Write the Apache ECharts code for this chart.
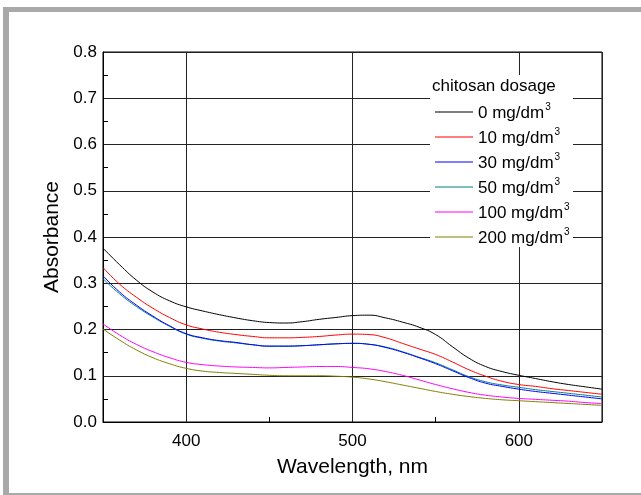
<!DOCTYPE html>
<html>
<head>
<meta charset="utf-8">
<script src="https://cdn.jsdelivr.net/npm/echarts@6/dist/echarts.min.js"></script>
<style>
  html, body { margin: 0; padding: 0; background: #fff; }
  #chart { width: 641px; height: 495px; }
</style>
</head>
<body>
<div id="chart"></div>
<script>
const wavelengths = [350,360,370,380,390,400,410,420,430,440,450,460,470,480,490,500,510,520,530,540,550,560,570,580,590,600,610,620,630,640,650];
const seriesNames = ['0 mg/dm³','10 mg/dm³','30 mg/dm³','50 mg/dm³','100 mg/dm³','200 mg/dm³'];
const seriesColors = ['#000000','#ff0000','#0000ff','#008080','#ff00ff','#808000'];
const dose0   = [0.376,0.340,0.307,0.281,0.262,0.249,0.240,0.232,0.225,0.219,0.215,0.214,0.217,0.222,0.226,0.230,0.231,0.225,0.216,0.205,0.189,0.163,0.138,0.120,0.109,0.101,0.094,0.087,0.081,0.076,0.071];
const dose10  = [0.334,0.298,0.270,0.246,0.226,0.210,0.201,0.194,0.189,0.185,0.182,0.182,0.183,0.185,0.188,0.190,0.189,0.182,0.170,0.158,0.146,0.130,0.113,0.099,0.088,0.081,0.077,0.072,0.068,0.064,0.060];
const dose30  = [0.316,0.281,0.253,0.229,0.208,0.191,0.182,0.176,0.172,0.167,0.164,0.164,0.165,0.167,0.169,0.170,0.168,0.161,0.151,0.139,0.126,0.111,0.096,0.084,0.077,0.071,0.066,0.062,0.058,0.054,0.050];
const dose50  = [0.310,0.277,0.250,0.227,0.207,0.190,0.181,0.175,0.171,0.167,0.164,0.164,0.165,0.167,0.169,0.170,0.168,0.162,0.152,0.140,0.128,0.113,0.098,0.087,0.080,0.075,0.070,0.066,0.062,0.058,0.054];
const dose100 = [0.212,0.188,0.168,0.152,0.139,0.129,0.124,0.121,0.119,0.118,0.117,0.118,0.119,0.120,0.120,0.118,0.115,0.109,0.101,0.091,0.081,0.072,0.064,0.058,0.054,0.051,0.049,0.047,0.045,0.042,0.040];
const dose200 = [0.201,0.177,0.156,0.139,0.126,0.116,0.110,0.107,0.105,0.103,0.101,0.100,0.100,0.100,0.099,0.097,0.093,0.087,0.080,0.073,0.066,0.060,0.055,0.051,0.048,0.046,0.044,0.042,0.040,0.038,0.036];
const seriesValues = [dose0, dose10, dose30, dose50, dose100, dose200];
const xTickLabels = [400, 500, 600];
const legendTitle = 'chitosan dosage';

const FONT = '"Liberation Sans", Arial, sans-serif';
const chart = echarts.init(document.getElementById('chart'), null, { renderer: 'canvas' });

const series = seriesNames.map((name, i) => ({
  name: name,
  type: 'line',
  data: wavelengths.map((w, j) => [w, seriesValues[i][j]]),
  showSymbol: false,
  symbol: 'none',
  smooth: 0.5,
  lineStyle: { color: seriesColors[i], width: 1 },
  itemStyle: { color: seriesColors[i] },
  z: 2 + (5 - i) * 0.01
}));

const option = {
  backgroundColor: '#ffffff',
  animation: false,
  textStyle: { fontFamily: FONT },
  grid: { left: 103, right: 39, top: 52, bottom: 73, show: true, borderColor: '#000', borderWidth: 1, backgroundColor: 'transparent' },
  title: {
    text: legendTitle,
    left: 432, top: 78,
    padding: 0,
    textStyle: { fontFamily: FONT, fontSize: 17, fontWeight: 'normal', color: '#000' }
  },
  legend: {
    orient: 'vertical',
    left: 435, top: 102,
    padding: 0,
    itemWidth: 38,
    itemHeight: 1,
    itemGap: 5,
    icon: 'rect',
    selectedMode: false,
    data: seriesNames.map((n, i) => ({ name: n, itemStyle: { color: seriesColors[i] } })),
    formatter: function (name) {
      return '{a|' + name.replace('³', '') + '}{s|3}';
    },
    textStyle: {
      fontFamily: FONT, color: '#000', padding: [0, 0, 0, 0],
      rich: {
        a: { fontFamily: FONT, fontSize: 17, color: '#000', lineHeight: 20, verticalAlign: 'bottom' },
        s: { fontFamily: FONT, fontSize: 10, color: '#000', lineHeight: 20, verticalAlign: 'top', padding: [0, 0, 10, 1] }
      }
    }
  },
  xAxis: {
    type: 'value',
    min: 350, max: 650,
    splitNumber: 3,
    name: 'Wavelength, nm',
    nameLocation: 'middle',
    nameGap: 35,
    nameTextStyle: { fontFamily: FONT, fontSize: 21, color: '#000' },
    axisLine: { show: true, onZero: false, lineStyle: { color: '#000', width: 1 } },
    axisTick: { show: false, inside: true },
    minorTick: { show: true, splitNumber: 2, length: 5, lineStyle: { color: '#000', width: 1 } },
    axisLabel: {
      fontFamily: FONT, fontSize: 17, color: '#000', margin: 11,
      showMinLabel: false, showMaxLabel: false,
      formatter: function (v) { return xTickLabels.indexOf(v) >= 0 ? String(v) : ''; }
    },
    splitLine: { show: true, lineStyle: { color: '#222', width: 1 } }
  },
  yAxis: {
    type: 'value',
    min: 0, max: 0.8, interval: 0.1,
    name: 'Absorbance',
    nameLocation: 'middle',
    nameGap: 37,
    nameRotate: 90,
    nameTextStyle: { fontFamily: FONT, fontSize: 21, color: '#000' },
    axisLine: { show: true, lineStyle: { color: '#000', width: 1 } },
    axisTick: { show: false, inside: true },
    minorTick: { show: true, splitNumber: 2, length: 5, lineStyle: { color: '#000', width: 1 } },
    axisLabel: {
      fontFamily: FONT, fontSize: 17, color: '#000', margin: 6,
      formatter: function (v) { return v.toFixed(1); }
    },
    splitLine: { show: true, lineStyle: { color: '#222', width: 1 } }
  },
  graphic: [
    { type: 'rect', z: 3, shape: { x: 430, y: 75, width: 143, height: 172 }, style: { fill: '#ffffff' }, silent: true },
    { type: 'rect', z: 10, shape: { x: 3, y: 7, width: 638, height: 5 }, style: { fill: '#a9a9a9' }, silent: true },
    { type: 'rect', z: 10, shape: { x: 3, y: 7, width: 6, height: 488 }, style: { fill: '#a9a9a9' }, silent: true },
    { type: 'rect', z: 10, shape: { x: 3, y: 493, width: 638, height: 2 }, style: { fill: '#a9a9a9' }, silent: true }
  ],
  series: series
};
chart.setOption(option);
</script>
</body>
</html>
